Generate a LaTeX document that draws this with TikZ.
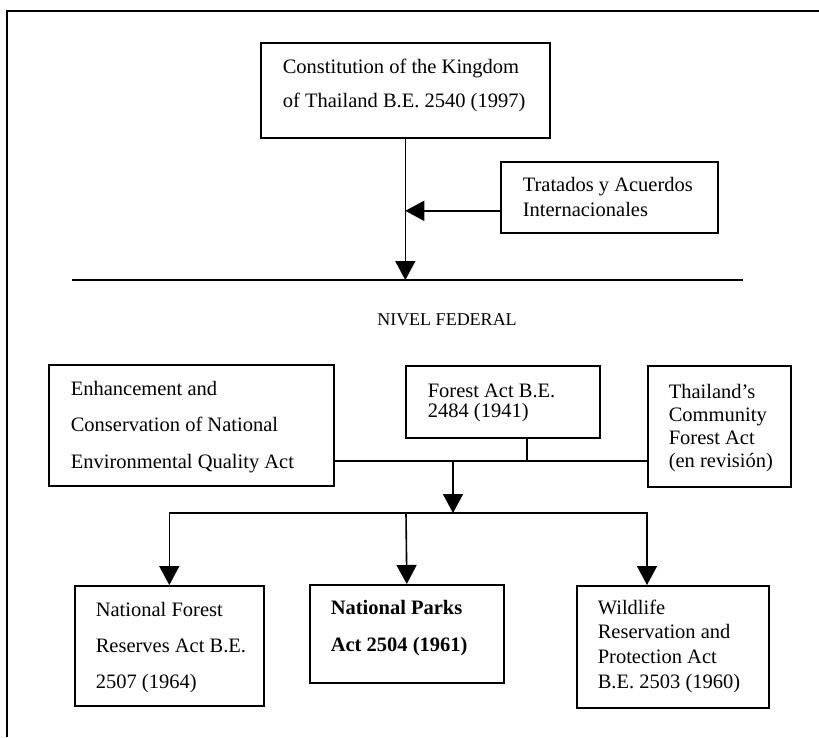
\documentclass[tikz,border=0pt]{standalone}
\usepackage{fontspec}
\setmainfont{Liberation Serif}
\usetikzlibrary{arrows.meta}

\newcommand{\interlinea}[1]{\fontsize{20.5}{#1}\selectfont}

\tikzset{
  caja/.style={draw, anchor=north west, inner sep=0pt},
  texto/.style={anchor=north west, inner sep=0pt, align=left},
  flecha/.style={-{Triangle[length=19pt,width=20pt]}},
}

\begin{document}
\begin{tikzpicture}[x=1pt, y=-1pt, line width=1.6pt]
\useasboundingbox (0,0) rectangle (819,737);
\draw (7,737) -- (7,11) -- (819,11);

\node[caja, minimum width=289pt, minimum height=95pt] (constitucion) at (260,42) {};
\node[texto, font=\interlinea{34}] (constitucion-t) at (282,58) {Constitution of the Kingdom\\of Thailand B.E. 2540 (1997)};
\node[caja, minimum width=217pt, minimum height=71pt] (tratados) at (500,161) {};
\node[texto, font=\interlinea{25}] (tratados-t) at (522,176) {Tratados y Acuerdos\\Internacionales};

\coordinate (linea-izq) at (72,280);
\coordinate (linea-der) at (743,280);
\draw (linea-izq) -- (linea-der);
\draw[flecha] (constitucion.south) -- (constitucion.south |- linea-izq);
\draw[flecha] ([yshift=-13.5pt]tratados.west) -- ([yshift=-13.5pt]tratados.west -| constitucion.south);

\node[font=\fontsize{18}{22}\selectfont] (federal) at (447,320) {NIVEL FEDERAL};

\node[caja, minimum width=285pt, minimum height=121pt] (mejora) at (48,364) {};
\node[texto, font=\interlinea{36.5}] (mejora-t) at (70,380) {Enhancement and\\Conservation of National\\Environmental Quality Act};
\node[caja, minimum width=194pt, minimum height=72pt] (bosque) at (405,365) {};
\node[texto, font=\interlinea{20}] (bosque-t) at (427,383) {Forest Act B.E.\\2484 (1941)};
\node[caja, minimum width=143pt, minimum height=121pt] (comunitaria) at (647,365) {};
\node[texto, font=\interlinea{23.3}] (comunitaria-t) at (668,383) {Thailand's\\Community\\Forest Act\\(en revisión)};

\node[caja, minimum width=189pt, minimum height=120pt] (reservas) at (74,585) {};
\node[texto, font=\interlinea{36}] (reservas-t) at (95,601) {National Forest\\Reserves Act B.E.\\2507 (1964)};
\node[caja, minimum width=194pt, minimum height=98pt] (parques) at (309,584) {};
\node[texto, font=\interlinea{37}\bfseries] (parques-t) at (330,599) {National Parks\\Act 2504 (1961)};
\node[caja, minimum width=192pt, minimum height=122pt] (vida) at (576,585) {};
\node[texto, font=\interlinea{24.7}] (vida-t) at (597,599) {Wildlife\\Reservation and\\Protection Act\\B.E. 2503 (1960)};

\coordinate (nudo) at (453,461);
\coordinate (barra) at (406,513);
\draw (mejora.east |- nudo) -- (comunitaria.west |- nudo);
\draw ([xshift=24pt]bosque.south) -- ([xshift=24pt]bosque.south |- nudo);
\draw[flecha] (nudo) -- (nudo |- barra);
\draw[flecha] (barra) -| (reservas.north);
\draw[flecha] (barra) -- (parques.north);
\draw[flecha] (barra) -| (comunitaria.west |- vida.north);
\end{tikzpicture}
\end{document}
